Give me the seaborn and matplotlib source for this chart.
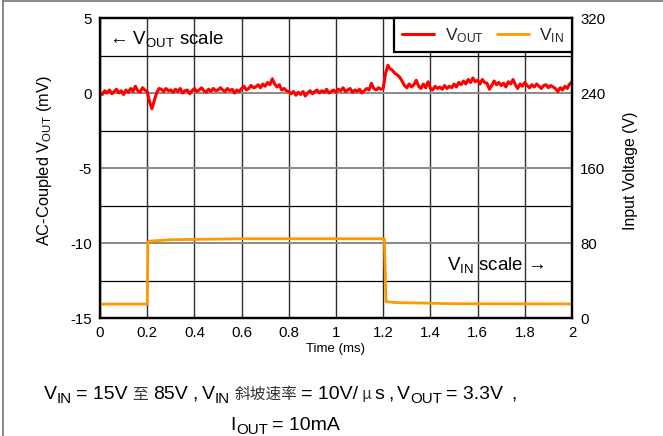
import numpy as np
import pandas as pd
import matplotlib
matplotlib.use("Agg")
import matplotlib.pyplot as plt
import seaborn as sns
from matplotlib.lines import Line2D
from matplotlib.transforms import IdentityTransform
from matplotlib.ticker import MultipleLocator

# ---------------- data ----------------
time_ms = np.linspace(0, 2, 201)
vout_mv = [
    0.05, -0.1, 0.15, 0.0, 0.2, -0.05, 0.1, 0.25, 0.0, 0.15, -0.1, 0.2, 0.05, 0.3, 0.1, 0.45, 0.15, 0.05, 0.35, 0.2, 0.1,
    -0.6, -1.05, -0.5, 0.0, 0.3,
    0.25, 0.1, 0.3, 0.15, 0.2, 0.05, 0.25, 0.1, 0.3, 0.0, 0.15, 0.2, -0.05, 0.15, 0.3, 0.1, 0.2, 0.35, 0.15, 0.05, 0.25, 0.1, 0.3, 0.15, 0.2,
    0.35, 0.2, 0.1, 0.3, 0.15, 0.25, 0.0, 0.2, 0.1, 0.3, 0.45, 0.2, 0.3, 0.5, 0.35,
    0.4, 0.55, 0.35, 0.6, 0.45, 0.7, 0.55, 0.95, 0.6, 0.4, 0.55, 0.2, 0.3, 0.15, 0.1,
    -0.05, 0.1, -0.15, 0.05, -0.1, 0.1, -0.2, 0.0, 0.15, -0.05, 0.1, 0.2, 0.0, 0.15, 0.05, 0.25, 0.0, 0.1, 0.2, 0.05,
    0.25, 0.15, 0.35, 0.1, 0.2, 0.3, 0.05, 0.2, 0.1, 0.25, 0.0, 0.15, 0.3, 0.2, 0.65,
    0.3, 0.2, 0.35, 0.25, 0.3,
    1.3, 1.85, 1.6, 1.5, 1.3, 1.2, 1.05, 0.8, 0.5, 0.35,
    0.6, 0.4, 0.55, 0.85, 0.45, 0.3, 0.6, 0.35, 0.75, 0.3, 0.2, 0.45, 0.3, 0.4, 0.25, 0.5, 0.3, 0.45, 0.35, 0.6,
    0.4, 0.7, 0.55, 0.8, 0.6, 0.9, 0.7, 1.0, 0.75, 0.85, 0.6, 0.9, 0.7, 0.65, 0.25, 0.5, 0.8, 0.55, 0.7, 0.5,
    0.65, 0.4, 0.75, 0.6, 0.9, 0.55, 0.3, 0.6, 0.45, 0.7, 0.5, 0.35, 0.55, 0.4, 0.6, 0.45, 0.3, 0.5, 0.55, 0.35,
    0.5, 0.4, 0.3, 0.1, 0.35, 0.2, 0.45, 0.3, 0.6, 0.75,
]
vin_time_ms = [0.0, 0.2, 0.203, 0.21, 0.3, 0.6, 1.0, 1.205, 1.212, 1.25, 1.5, 2.0]
vin_volts = [14.8, 14.8, 81.0, 82.0, 83.5, 84.5, 84.5, 84.5, 17.5, 16.5, 15.2, 15.0]

x_ticks = [0, 0.2, 0.4, 0.6, 0.8, 1, 1.2, 1.4, 1.6, 1.8, 2]
x_tick_labels = ["0", "0.2", "0.4", "0.6", "0.8", "1", "1.2", "1.4", "1.6", "1.8", "2"]
left_ticks = [-15, -10, -5, 0, 5]
right_ticks = [0, 80, 160, 240, 320]

df_out = pd.DataFrame({"t": time_ms, "v": vout_mv})
df_in = pd.DataFrame({"t": vin_time_ms, "v": vin_volts})

# ---------------- style ----------------
sns.set_theme(style="white")
plt.rcParams["font.family"] = ["Liberation Sans", "Noto Sans CJK SC", "DejaVu Sans"]
plt.rcParams["mathtext.fontset"] = "custom"
plt.rcParams["mathtext.rm"] = "Liberation Sans"
plt.rcParams["mathtext.it"] = "Liberation Sans:italic"
plt.rcParams["mathtext.bf"] = "Liberation Sans:bold"

RED = "#ff0000"
ORANGE = "#ff9900"

fig = plt.figure(figsize=(6.63, 4.36), dpi=100)
ax = fig.add_axes([100 / 663, 1 - 318 / 436, 472 / 663, 300 / 436])
ax2 = ax.twinx()

sns.lineplot(data=df_out, x="t", y="v", ax=ax, color=RED, lw=2.2, legend=False)
sns.lineplot(data=df_in, x="t", y="v", ax=ax2, color=ORANGE, lw=2.0, legend=False)

ax.set_xlim(0, 2)
ax.set_ylim(-15, 5)
ax2.set_ylim(0, 320)
ax.set_xticks(x_ticks)
ax.set_xticklabels(x_tick_labels)
ax.set_yticks(left_ticks)
ax.set_yticklabels([str(v) for v in left_ticks])
ax.yaxis.set_minor_locator(MultipleLocator(2.5))
ax2.set_yticks(right_ticks)
ax2.set_yticklabels([str(v) for v in right_ticks])

ax.grid(False)
ax2.grid(False)
ax.grid(which="major", axis="x", color="#303030", lw=1.0)
ax.grid(which="minor", axis="y", color="black", lw=0.9)
ax.grid(which="major", axis="y", color="#8a8a8a", lw=1.4)
ax.set_axisbelow(True)

for a in (ax, ax2):
    for s in a.spines.values():
        s.set_color("black")
        s.set_linewidth(1.6)
    a.tick_params(which="both", length=0, labelsize=10.8, colors="black")
ax.tick_params(axis="y", pad=6)
ax.tick_params(axis="x", pad=6)
ax2.tick_params(axis="y", pad=6)

ax.set_xlabel("Time (ms)", fontsize=9.5, labelpad=2, color="black")
ax.set_ylabel("AC-Coupled V$_{\\rm OUT}$ (mV)", fontsize=11.8, color="black")
ax.yaxis.set_label_coords(-0.098, 0.523)
ax2.set_ylabel("Input Voltage (V)", fontsize=11.4, color="black")
ax2.yaxis.set_label_coords(1.108, 0.49)

ax.text(0.019, 0.913, "\u2190 V$_{\\rm OUT}$ scale", transform=ax.transAxes,
        fontsize=13.5, va="baseline", ha="left", color="black")
ax.text(0.735, 0.16, "V$_{\\rm IN}$ scale \u2192", transform=ax.transAxes,
        fontsize=13.5, va="baseline", ha="left", color="black")

handles = [Line2D([], [], color=RED, lw=2.2), Line2D([], [], color=ORANGE, lw=2.0)]
leg = ax2.legend(handles, ["V$_{\\rm OUT}$", "V$_{\\rm IN}$"], loc="upper right", ncol=2,
                 fontsize=12.5, frameon=True, fancybox=False, borderaxespad=0,
                 handlelength=1.85, handletextpad=0.6, columnspacing=0.75,
                 borderpad=0.45)
leg.get_frame().set_edgecolor("black")
leg.get_frame().set_linewidth(1.6)
leg.get_frame().set_alpha(1)

# figure border (left and top)
fig.add_artist(Line2D([3 / 663, 3 / 663], [0, 1], transform=fig.transFigure, color="#777777", lw=1.2))
fig.add_artist(Line2D([3 / 663, 1], [1 - 0.8 / 436, 1 - 0.8 / 436], transform=fig.transFigure, color="#777777", lw=1.2))

# ---------------- caption ----------------
fig.canvas.draw()
renderer = fig.canvas.get_renderer()
H = 436


def rich(pieces, x_center, y_base, size):
    sub_drop = size * 100 / 72 * 0.2
    x = 0.0
    texts = []
    for s, kind, gap in pieces:
        x += gap
        if kind == "cjk":
            t = fig.text(x, y_base, s, transform=IdentityTransform(), fontsize=11.3,
                         family=["Noto Sans CJK SC"], color="#333333", va="baseline", ha="left")
            dy = 0
        elif kind == "sub":
            t = fig.text(x, y_base - sub_drop, s, transform=IdentityTransform(), fontsize=size * 0.78,
                         family=["Liberation Sans"], color="black", va="baseline", ha="left")
            dy = -sub_drop
        else:
            t = fig.text(x, y_base, s, transform=IdentityTransform(), fontsize=size,
                         family=["Liberation Sans"], color="black", va="baseline", ha="left")
            dy = 0
        bb = t.get_window_extent(renderer)
        texts.append((t, x, dy))
        x = bb.x1
    shift = x_center - x / 2.0
    for t, x0, dy in texts:
        t.set_position((x0 + shift, y_base + dy))


CAP = 14.0
line1 = [
    ("V", "n", 0), ("IN", "sub", 0), ("= 15V", "n", 4), ("\u81f3", "cjk", 5), ("85V", "n", 5),
    (",", "n", 5), ("V", "n", 4), ("IN", "sub", 0), ("\u659c\u5761\u901f\u7387", "cjk", 4),
    ("= 10V/", "n", 4), ("\u00b5", "cjk", 3), ("s", "n", 3), (",", "n", 4), ("V", "n", 4),
    ("OUT", "sub", 0), ("= 3.3V", "n", 4), (",", "n", 8),
]
line2 = [("I", "n", 0), ("OUT", "sub", 0), ("= 10mA", "n", 4)]
rich(line1, 280, H - 399, CAP)
rich(line2, 285, H - 430, CAP)

fig.savefig("out.png", dpi=100)
